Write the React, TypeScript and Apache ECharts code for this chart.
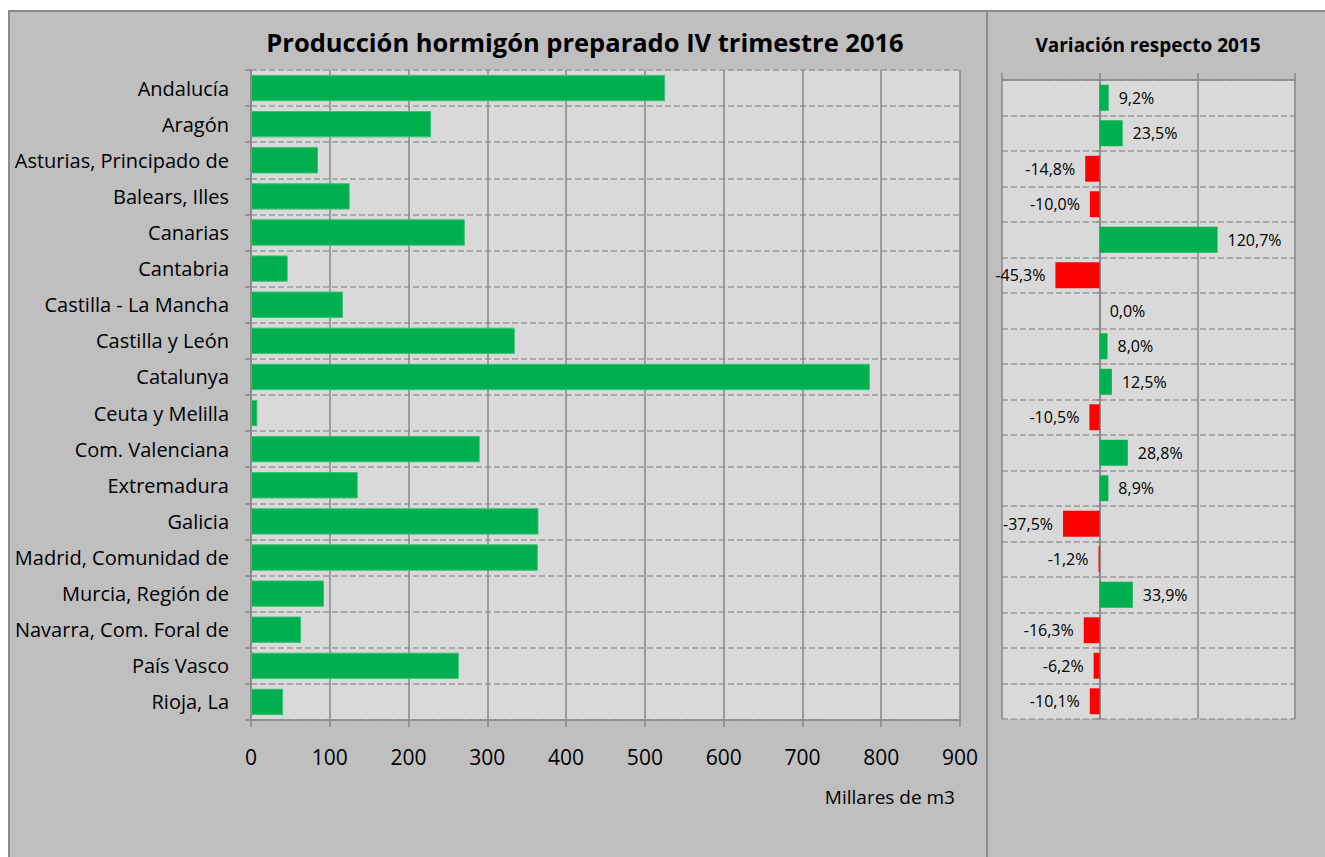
import React, { useEffect, useRef } from "react";
import * as echarts from "echarts";

const regions = [
  "Andalucía",
  "Aragón",
  "Asturias, Principado de",
  "Balears, Illes",
  "Canarias",
  "Cantabria",
  "Castilla - La Mancha",
  "Castilla y León",
  "Catalunya",
  "Ceuta y Melilla",
  "Com. Valenciana",
  "Extremadura",
  "Galicia",
  "Madrid, Comunidad de",
  "Murcia, Región de",
  "Navarra, Com. Foral de",
  "País Vasco",
  "Rioja, La",
];

const production = [
  525.7, 228.6, 85.1, 125.3, 271.4, 46.6, 116.8, 334.9, 785.6, 8.1, 290.4, 135.5,
  364.9, 364.1, 92.7, 63.5, 263.8, 40.7,
];

const variation = [
  9.2, 23.5, -14.8, -10.0, 120.7, -45.3, 0.0, 8.0, 12.5, -10.5, 28.8, 8.9, -37.5,
  -1.2, 33.9, -16.3, -6.2, -10.1,
];

const mainTitle = "Producción hormigón preparado IV trimestre 2016";
const sideTitle = "Variación respecto 2015";
const unitLabel = "Millares de m3";

const FONT = "'Open Sans', 'Noto Sans', sans-serif";
const GRID_COLOR = "#878787";
const GREEN = "#00B050";
const RED = "#FF0000";

export default function App() {
  const ref = useRef<HTMLDivElement>(null);

  useEffect(() => {
    if (!ref.current) return;
    const chart = echarts.init(ref.current, null, { renderer: "svg" });

    const varData = variation.map((v) => ({
      value: v,
      itemStyle: { color: v < 0 ? RED : GREEN },
      label: { position: v < 0 ? "left" : "right" },
    }));

    const option: any = {
      animation: false,
      backgroundColor: "#ffffff",
      textStyle: { fontFamily: FONT },
      graphic: [
        {
          type: "rect",
          z: -100,
          shape: { x: 9, y: 11, width: 978, height: 900 },
          style: { fill: "#BFBFBF", stroke: "#8C8C8C", lineWidth: 2 },
        },
        {
          type: "rect",
          z: -100,
          shape: { x: 987, y: 11, width: 400, height: 900 },
          style: { fill: "#BFBFBF", stroke: "#8C8C8C", lineWidth: 2 },
        },
        {
          type: "text",
          z: 10,
          style: {
            text: mainTitle,
            x: 585,
            y: 42,
            fill: "#000",
            font: `bold 25.5px ${FONT}`,
            textAlign: "center",
            textVerticalAlign: "middle",
          },
        },
        {
          type: "text",
          z: 10,
          style: {
            text: sideTitle,
            x: 1148,
            y: 45,
            fill: "#000",
            font: `bold 19px ${FONT}`,
            textAlign: "center",
            textVerticalAlign: "middle",
          },
        },
        {
          type: "text",
          z: 10,
          style: {
            text: unitLabel,
            x: 955,
            y: 797,
            fill: "#000",
            font: `19px ${FONT}`,
            textAlign: "right",
            textVerticalAlign: "middle",
          },
        },
      ],
      grid: [
        {
          left: 251,
          top: 70,
          width: 709,
          height: 650,
          show: true,
          backgroundColor: "#D9D9D9",
          borderWidth: 0,
          containLabel: false,
          outerBoundsMode: "none",
        },
        {
          left: 1002,
          top: 80,
          width: 293,
          height: 639,
          show: true,
          backgroundColor: "#D9D9D9",
          borderWidth: 0,
          containLabel: false,
          outerBoundsMode: "none",
        },
      ],
      xAxis: [
        {
          type: "value",
          gridIndex: 0,
          min: 0,
          max: 900,
          interval: 100,
          axisLine: { show: true, lineStyle: { color: GRID_COLOR, width: 1.5 } },
          axisTick: { show: true, length: 7, lineStyle: { color: GRID_COLOR, width: 1.5 } },
          axisLabel: { fontSize: 21, color: "#000", margin: 26, fontFamily: FONT },
          splitLine: { show: true, lineStyle: { color: GRID_COLOR, width: 1.5 } },
        },
        {
          type: "value",
          gridIndex: 1,
          position: "top",
          min: -100,
          max: 200,
          interval: 100,
          axisLine: { show: true, onZero: false, lineStyle: { color: GRID_COLOR, width: 1.5 } },
          axisTick: { show: true, length: 7, lineStyle: { color: GRID_COLOR, width: 1.5 } },
          axisLabel: { show: false },
          splitLine: { show: true, lineStyle: { color: GRID_COLOR, width: 1.5 } },
        },
      ],
      yAxis: [
        {
          type: "category",
          gridIndex: 0,
          inverse: true,
          data: regions,
          axisLine: { show: true, lineStyle: { color: GRID_COLOR, width: 1.5 } },
          axisTick: { show: true, length: 6, lineStyle: { color: GRID_COLOR, width: 1.5 } },
          axisLabel: { fontSize: 20, color: "#000", margin: 22, fontFamily: FONT },
          splitLine: {
            show: true,
            lineStyle: { color: "#999999", width: 1.5, type: [6, 3] },
          },
        },
        {
          type: "category",
          gridIndex: 1,
          inverse: true,
          data: regions,
          axisLine: { show: true, onZero: true, lineStyle: { color: GRID_COLOR, width: 1.5 } },
          axisTick: { show: true, length: 3, lineStyle: { color: GRID_COLOR, width: 1.5 } },
          axisLabel: { show: false },
          splitLine: {
            show: true,
            lineStyle: { color: "#999999", width: 1.5, type: [6, 3] },
          },
        },
      ],
      series: [
        {
          type: "bar",
          xAxisIndex: 0,
          yAxisIndex: 0,
          data: production,
          barCategoryGap: "27%",
          itemStyle: { color: GREEN, borderColor: "#3FC076", borderWidth: 1 },
          silent: true,
        },
        {
          type: "bar",
          xAxisIndex: 1,
          yAxisIndex: 1,
          data: varData,
          barCategoryGap: "27%",
          label: {
            show: true,
            distance: 10,
            fontSize: 16,
            color: "#000",
            fontFamily: FONT,
            formatter: (p: any) => p.value.toFixed(1).replace(".", ",") + "%",
          },
          silent: true,
        },
      ],
    };

    chart.setOption(option);
    return () => chart.dispose();
  }, []);

  return (
    <div
      ref={ref}
      style={{ position: "fixed", left: 0, top: 0, width: 1325, height: 857 }}
    />
  );
}
